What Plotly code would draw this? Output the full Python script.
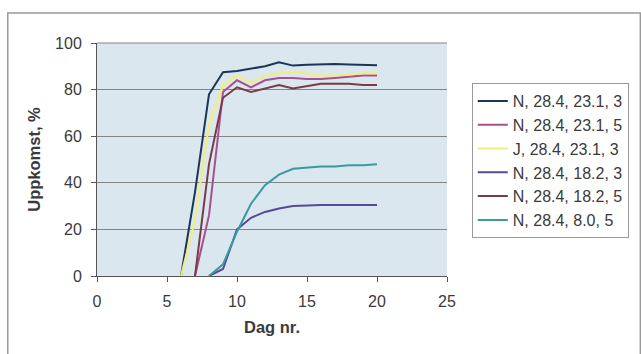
import plotly.graph_objects as go

# Emergence (%) per day for each seed lot / treatment
days = [6, 7, 8, 9, 10, 11, 12, 13, 14, 15, 16, 17, 18, 19, 20]

series_names = [
    "N, 28.4, 23.1, 3",
    "N, 28.4, 23.1, 5",
    "J, 28.4, 23.1, 3",
    "N, 28.4, 18.2, 3",
    "N, 28.4, 18.2, 5",
    "N, 28.4, 8.0, 5",
]

n_231_3 = [0, 36, 78, 87.5, 88, 89, 90, 91.7, 90.3, 90.7, 91, 91, 90.8, 90.7, 90.5]
n_231_5 = [None, 0, 26, 79, 84, 81, 84, 85, 85, 84.5, 84.5, 85, 85.5, 86, 86]
j_231_3 = [0, 24, 65, 82, 86, 83, 86, 87, 87.5, 87, 86, 86, 86.5, 87, 87]
n_182_3 = [None, None, 0, 3, 20, 25, 27.5, 29, 30, 30.3, 30.5, 30.5, 30.5, 30.5, 30.5]
n_182_5 = [None, 0, 48, 76.5, 81, 79, 80.5, 82, 80.5, 81.5, 82.5, 82.5, 82.5, 82, 82]
n_080_5 = [None, None, 0, 5, 19, 31, 39, 43.5, 46, 46.5, 47, 47, 47.5, 47.5, 48]

values = [n_231_3, n_231_5, j_231_3, n_182_3, n_182_5, n_080_5]
colors = ["#1d3557", "#a8508e", "#f2ee78", "#564a98", "#7a3a48", "#3a9a9c"]

fig = go.Figure()
for name, vals, col in zip(series_names, values, colors):
    fig.add_trace(go.Scatter(
        x=days, y=vals, name=name, mode="lines",
        line=dict(color=col, width=2),
        connectgaps=False,
    ))

# plot area geometry in pixels
L, R, T, B = 97, 450, 43, 276
W, H = 641, 354
pw, ph = R - L, B - T

def px(x):
    return (x - L) / pw

def py(y):
    return (B - y) / ph

font_main = "Liberation Sans, Arial, sans-serif"
txt = "#3a3a3a"

fig.update_layout(
    width=W, height=H,
    margin=dict(l=L, r=W - R, t=T, b=H - B, pad=0),
    paper_bgcolor="white",
    plot_bgcolor="#dae7ee",
    font=dict(family=font_main, size=16, color=txt),
    showlegend=True,
    legend=dict(
        x=px(475), y=py(238), xanchor="left", yanchor="bottom",
        bgcolor="white", bordercolor="#9a9a9a", borderwidth=1,
        font=dict(size=16, color=txt),
    ),
    xaxis=dict(
        range=[0, 25], dtick=5, tick0=0,
        showgrid=False, zeroline=False,
        showline=True, linecolor="#555555", linewidth=1,
        ticks="outside", ticklen=5, tickcolor="#555555",
        ticklabelstandoff=6,
        tickfont=dict(size=16, color=txt),
        title=dict(text="<b>Dag nr.</b>", font=dict(size=16.5, color=txt), standoff=12),
    ),
    yaxis=dict(
        range=[0, 100], dtick=20, tick0=0,
        showgrid=True, gridcolor="#858585", gridwidth=1,
        zeroline=False,
        showline=True, linecolor="#555555", linewidth=1,
        ticks="outside", ticklen=5, tickcolor="#555555",
        ticklabelstandoff=6,
        tickfont=dict(size=16, color=txt),
        title=dict(text="<b>Uppkomst, %</b>", font=dict(size=16.5, color=txt), standoff=10),
    ),
    shapes=[
        # outer chart frame
        dict(type="rect", xref="paper", yref="paper",
             x0=px(7), x1=px(645), y0=py(360), y1=py(13),
             line=dict(color="#9a9a9a", width=1.5), fillcolor="rgba(0,0,0,0)",
             layer="below"),
        # top border of plot area
        dict(type="line", xref="paper", yref="paper",
             x0=0, x1=1, y0=1, y1=1,
             line=dict(color="#858585", width=1)),
    ],
)

fig.write_html("out.html")
